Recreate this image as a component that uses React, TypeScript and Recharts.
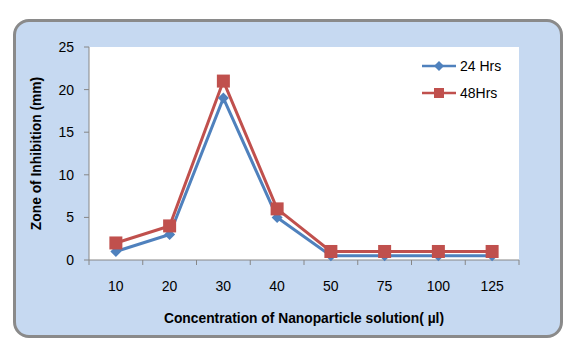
import {
  LineChart,
  Line,
  CartesianGrid,
  XAxis,
  YAxis,
  Legend,
} from "recharts";

const concentrations = ["10", "20", "30", "40", "50", "75", "100", "125"];
const hrs24 = [1, 3, 19, 5, 0.5, 0.5, 0.5, 0.5];
const hrs48 = [2, 4, 21, 6, 1, 1, 1, 1];
const yTicks = [0, 5, 10, 15, 20, 25];

const BLUE = "#4f81bd";
const RED = "#c0504d";
const AXIS = "#868686";
const FONT = "'Liberation Sans', Arial, sans-serif";

const data = concentrations.map((c, i) => ({
  conc: c,
  h24: hrs24[i],
  h48: hrs48[i],
}));

const Diamond = (props: any) => {
  const { cx, cy, index } = props;
  if (cx == null || cy == null) return <g key={"d" + index} />;
  const r = 5.5;
  return (
    <path
      key={"d" + index}
      d={`M${cx},${cy - r}L${cx + r},${cy}L${cx},${cy + r}L${cx - r},${cy}Z`}
      fill={BLUE}
    />
  );
};

const Square = (props: any) => {
  const { cx, cy, index } = props;
  if (cx == null || cy == null) return <g key={"s" + index} />;
  const r = 6.5;
  return (
    <rect key={"s" + index} x={cx - r} y={cy - r} width={r * 2} height={r * 2} fill={RED} />
  );
};

// category label plus excel-style tick marks on the band edges
const XTick = (props: any) => {
  const { x, y, payload, index, visibleTicksCount } = props;
  const half = payload?.offset ?? 0;
  const last = index === visibleTicksCount - 1;
  return (
    <g>
      <line x1={x - half} y1={y} x2={x - half} y2={y + 5} stroke={AXIS} />
      {last && <line x1={x + half} y1={y} x2={x + half} y2={y + 5} stroke={AXIS} />}
      <text x={x} y={y + 31} textAnchor="middle" fill="#000" fontSize={14} fontFamily={FONT}>
        {payload.value}
      </text>
    </g>
  );
};

const LegendBox = () => {
  const items = [
    { name: "24 Hrs", color: BLUE, shape: "diamond" },
    { name: "48Hrs", color: RED, shape: "square" },
  ];
  return (
    <div style={{ fontFamily: FONT, fontSize: 14, color: "#000" }}>
      {items.map((it) => (
        <div key={it.name} style={{ display: "flex", alignItems: "center", height: 27 }}>
          <svg width={36} height={14}>
            <line x1={0} y1={7} x2={34} y2={7} stroke={it.color} strokeWidth={2.5} />
            {it.shape === "diamond" ? (
              <path d="M17,2L22,7L17,12L12,7Z" fill={it.color} />
            ) : (
              <rect x={12} y={2} width={10} height={10} fill={it.color} />
            )}
          </svg>
          <span style={{ marginLeft: 2 }}>{it.name}</span>
        </div>
      ))}
    </div>
  );
};

export default function App() {
  return (
    <div style={{ position: "absolute", left: 0, top: 0, width: 572, height: 353 }}>
      <div
        style={{
          position: "absolute",
          left: 13,
          top: 19,
          width: 550,
          height: 319,
          boxSizing: "border-box",
          border: "3px solid #8a8a8a",
          borderRadius: 16,
          background: "#c6d9f1",
        }}
      />
      <div style={{ position: "absolute", left: 0, top: 0 }}>
        <LineChart
          width={572}
          height={353}
          data={data}
          margin={{ top: 47, right: 53, left: 0, bottom: 60 }}
        >
          <CartesianGrid fill="#ffffff" stroke="none" horizontal={false} vertical={false} />
          <XAxis
            xAxisId="main"
            dataKey="conc"
            scale="band"
            axisLine={{ stroke: AXIS }}
            tickLine={false}
            tickSize={0}
            tickMargin={0}
            height={33}
            interval={0}
            tick={<XTick />}
            label={{
              value: "Concentration of Nanoparticle solution( µl)",
              position: "insideBottom",
              offset: -30,
              style: { fill: "#000", fontSize: 13.8, fontWeight: "bold", fontFamily: FONT },
            }}
          />
          <YAxis
            domain={[0, 25]}
            ticks={yTicks}
            width={89}
            axisLine={{ stroke: AXIS }}
            tickLine={{ stroke: AXIS }}
            tickSize={5}
            tickMargin={10}
            tick={{ fill: "#000", fontSize: 14, fontFamily: FONT }}
            label={{
              value: "Zone of Inhibition (mm)",
              angle: -90,
              position: "center",
              dx: -8,
              style: { fill: "#000", fontSize: 13.8, fontWeight: "bold", fontFamily: FONT },
            }}
          />
          <Legend
            layout="horizontal"
            verticalAlign="middle"
            align="center"
            content={<LegendBox />}
            wrapperStyle={{ left: 422, top: 52, width: 100, height: 60 }}
          />
          <Line
            xAxisId="main"
            dataKey="h24"
            name="24 Hrs"
            stroke={BLUE}
            strokeWidth={3}
            dot={Diamond}
            activeDot={false}
            isAnimationActive={false}
          />
          <Line
            xAxisId="main"
            dataKey="h48"
            name="48Hrs"
            stroke={RED}
            strokeWidth={3}
            dot={Square}
            activeDot={false}
            isAnimationActive={false}
          />
        </LineChart>
      </div>
    </div>
  );
}
